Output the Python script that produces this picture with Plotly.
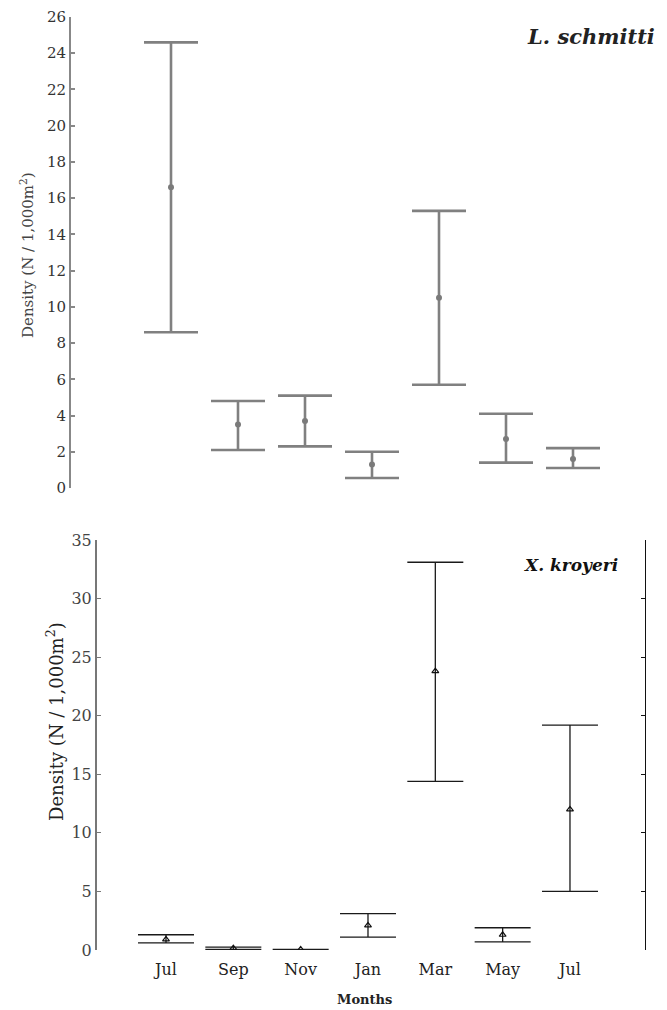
import plotly.graph_objects as go

months = ["Jul", "Sep", "Nov", "Jan", "Mar", "May", "Jul"]

# L. schmitti (top panel)
ls_mean = [16.6, 3.5, 3.7, 1.3, 10.5, 2.7, 1.6]
ls_upper = [24.6, 4.8, 5.1, 2.0, 15.3, 4.1, 2.2]
ls_lower = [8.6, 2.1, 2.3, 0.55, 5.7, 1.4, 1.1]

# X. kroyeri (bottom panel)
xk_mean = [0.9, 0.15, 0.05, 2.1, 23.8, 1.3, 12.0]
xk_upper = [1.3, 0.25, 0.06, 3.1, 33.1, 1.9, 19.2]
xk_lower = [0.6, 0.05, 0.0, 1.1, 14.4, 0.7, 5.0]

top_ticks = list(range(0, 27, 2))
bot_ticks = list(range(0, 36, 5))

idx = list(range(len(months)))

OFF = 8  # page body margin
W, H = 667 - OFF, 1010 - OFF


def px(x):
    return (x - OFF) / W


def py(y):
    return 1 - (y - OFF) / H


fig = go.Figure()

fig.add_trace(go.Scatter(
    x=idx, y=ls_mean, mode="markers", xaxis="x", yaxis="y",
    marker=dict(symbol="circle", size=6, color="#7a7a7a"),
    error_y=dict(type="data", symmetric=False,
                 array=[u - m for u, m in zip(ls_upper, ls_mean)],
                 arrayminus=[m - l for m, l in zip(ls_mean, ls_lower)],
                 color="#808080", thickness=2.6, width=27),
    showlegend=False, hoverinfo="skip"))

fig.add_trace(go.Scatter(
    x=idx, y=xk_mean, mode="markers", xaxis="x2", yaxis="y2",
    marker=dict(symbol="triangle-up-open", size=6, color="#111",
                line=dict(width=1.2, color="#111")),
    error_y=dict(type="data", symmetric=False,
                 array=[u - m for u, m in zip(xk_upper, xk_mean)],
                 arrayminus=[m - l for m, l in zip(xk_mean, xk_lower)],
                 color="#1a1a1a", thickness=1.3, width=28),
    showlegend=False, hoverinfo="skip"))

# right-hand mirror axis of the bottom panel
fig.add_trace(go.Scatter(x=[0], y=[0], xaxis="x2", yaxis="y3", mode="markers",
                         marker=dict(opacity=0), showlegend=False,
                         hoverinfo="skip"))

serif = "DejaVu Serif, Liberation Serif, serif"

# x scale: top categories at 171 + 67*i (axis at 71, right end 640)
# bottom categories at 166 + 67.33*i (axis at 97, right axis at 645)
top_range = [(71 - 171) / 67.0, (640 - 171) / 67.0]
bot_range = [(97 - 166) / 67.33, (645 - 166) / 67.33]


def note(text, x, y, size, color="#222", angle=0):
    return dict(text=text, x=px(x), y=py(y), xref="paper", yref="paper",
                showarrow=False, xanchor="center", yanchor="middle",
                textangle=angle, font=dict(size=size, color=color, family=serif))


fig.update_layout(
    width=W, height=H,
    margin=dict(l=0, r=0, t=0, b=0),
    paper_bgcolor="white", plot_bgcolor="white",
    font=dict(family=serif, color="#333"),
    xaxis=dict(domain=[px(71), px(640)], range=top_range,
               visible=False, anchor="y"),
    yaxis=dict(domain=[py(488), py(17)], range=[0, 26],
               tickvals=top_ticks, ticks="inside", ticklen=4, tickwidth=1.5,
               tickcolor="#888", showline=True, linecolor="#888", linewidth=2,
               showgrid=False, zeroline=False, automargin=False,
               tickfont=dict(size=15, color="#333", family=serif),
               anchor="x"),
    xaxis2=dict(domain=[px(97), px(645)], range=bot_range,
                tickvals=idx, ticktext=months, showline=False, ticks="",
                showgrid=False, zeroline=False, automargin=False,
                ticklabelstandoff=8,
                tickfont=dict(size=16, color="#222", family=serif),
                anchor="y2"),
    yaxis2=dict(domain=[py(950), py(540)], range=[0, 35],
                tickvals=bot_ticks, ticks="inside", ticklen=4, tickwidth=1.2,
                tickcolor="#777", showline=True, linecolor="#777", linewidth=2,
                showgrid=False, zeroline=False, automargin=False,
                tickfont=dict(size=16, color="#444", family=serif),
                anchor="x2"),
    yaxis3=dict(overlaying="y2", side="right", range=[0, 35],
                tickvals=bot_ticks, ticks="inside", ticklen=4, tickwidth=1,
                tickcolor="#111", showline=True, linecolor="#111", linewidth=1.3,
                showticklabels=False, showgrid=False, zeroline=False,
                automargin=False, anchor="x2"),
    annotations=[
        note("<b><i>L. schmitti</i></b>", 591, 37, 21),
        note("<b><i>X. kroyeri</i></b>", 571, 565, 17, "#111"),
        note("Density (N / 1,000m<sup>2</sup>)", 27, 255, 15, "#444", -90),
        note("Density (N / 1,000m<sup>2</sup>)", 55, 722, 18, "#222", -90),
        note("<b>Months</b>", 365, 999, 13),
    ],
)

fig.write_html("out.html")
